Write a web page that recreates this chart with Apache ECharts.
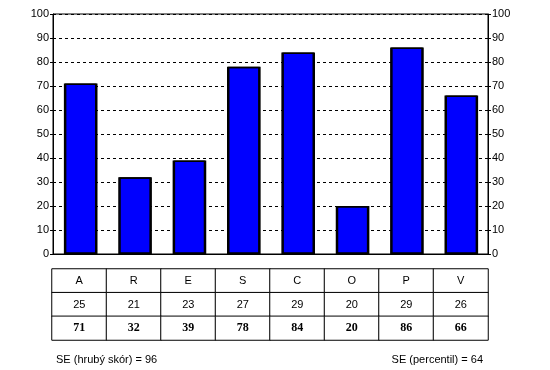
<!DOCTYPE html>
<html><head><meta charset="utf-8">
<script src="https://cdn.jsdelivr.net/npm/echarts@6/dist/echarts.min.js"></script>
<style>html,body{margin:0;padding:0;background:#fff}#c{width:550px;height:370px}</style>
</head><body><div id="c"></div>
<script>
var categories = ['A','R','E','S','C','O','P','V'];
var rawScores = [25,21,23,27,29,20,29,26];
var percentiles = [71,32,39,78,84,20,86,66];
var yTicks = [0,10,20,30,40,50,60,70,80,90,100];
var footLeft = 'SE (hrubý skór) = 96';
var footRight = 'SE (percentil) = 64';

var tableRows = [categories, rawScores, percentiles];
var cells = [];
tableRows.forEach(function(row, r){
  row.forEach(function(v, c){
    cells.push({value:[c, r, 0], label:{fontWeight: r===2 ? 'bold' : 'normal', fontFamily: r===2 ? 'Liberation Serif' : 'Liberation Sans', fontSize: r===2 ? 12 : 11}});
  });
});

var font = 'Liberation Sans';
var yAxisCommon = {
  type:'value', min:0, max:100, interval:10,
  axisLine:{show:true, lineStyle:{color:'#000', width:1}},
  axisTick:{show:true, length:3, lineStyle:{color:'#000'}},
  axisLabel:{color:'#000', fontSize:11, fontFamily:font, margin:4},
  splitLine:{show:false}
};
var chart = echarts.init(document.getElementById('c'), null, {renderer:'canvas'});
chart.setOption({
  animation:false,
  backgroundColor:'#fff',
  title:[
    {text:footLeft, left:51, top:349, textStyle:{fontSize:11, fontWeight:'normal', fontFamily:font, color:'#000'}},
    {text:footRight, right:62, top:349, textStyle:{fontSize:11, fontWeight:'normal', fontFamily:font, color:'#000'}}
  ],
  grid:[
    {left:53, right:62, top:14, bottom:116, show:true, borderColor:'#000', borderWidth:1, containLabel:false},
    {left:52, right:62, top:269, bottom:30, containLabel:false}
  ],
  xAxis:[
    {type:'category', gridIndex:0, data:categories, axisLine:{show:true, lineStyle:{color:'#000'}}, axisTick:{show:false}, axisLabel:{show:false}},
    {type:'category', gridIndex:1, data:categories, show:false}
  ],
  yAxis:[
    Object.assign({}, yAxisCommon, {gridIndex:0, position:'left',
      splitLine:{show:true, lineStyle:{color:'#000', type:[3,3], width:1}}}),
    Object.assign({}, yAxisCommon, {gridIndex:0, position:'right'}),
    {type:'category', gridIndex:1, data:['0','1','2'], inverse:true, show:false}
  ],
  series:[
    {type:'bar', xAxisIndex:0, yAxisIndex:0, data:percentiles, barWidth:'60%',
      itemStyle:{color:'#0000ff', borderColor:'#000', borderWidth:1.5, shadowColor:'#000', shadowOffsetX:1, shadowOffsetY:0, shadowBlur:0}},
    {type:'heatmap', xAxisIndex:1, yAxisIndex:2, data:cells,
      itemStyle:{color:'#fff', borderColor:'#000', borderWidth:1},
      label:{show:true, color:'#000', fontSize:11, fontFamily:font,
        formatter:function(p){ return String(tableRows[p.value[1]][p.value[0]]); }},
      emphasis:{disabled:true}}
  ]
});
</script></body></html>
